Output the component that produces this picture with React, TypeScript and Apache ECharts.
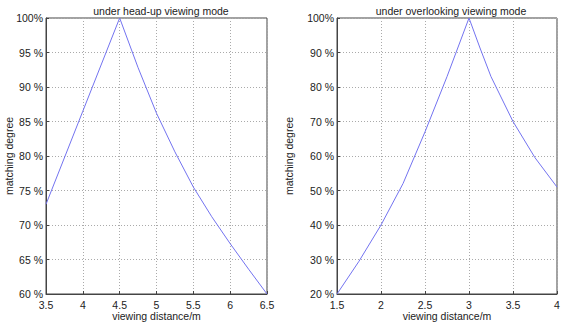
import React, { useEffect, useRef } from "react";
import * as echarts from "echarts";

const leftTitle = "under head-up viewing mode";
const rightTitle = "under overlooking viewing mode";
const xName = "viewing distance/m";
const yName = "matching degree";

const leftX = [3.5, 4.0, 4.5, 4.75, 5.0, 5.25, 5.5, 5.75, 6.0, 6.25, 6.5];
const leftY = [73, 86.5, 100, 92.8, 86.2, 80.6, 75.5, 71.2, 67.3, 63.6, 60];

const rightX = [1.5, 1.75, 2.0, 2.25, 2.5, 2.75, 3.0, 3.125, 3.25, 3.5, 3.75, 4.0];
const rightY = [20, 29.5, 40, 52, 67, 83, 100, 91.3, 83, 70, 59.5, 51];

const font = "'Liberation Sans', Arial, sans-serif";
const textColor = "#222";
const lineColor = "#7373f0";

function pairs(xs: number[], ys: number[]) {
  return xs.map((x, i) => [x, ys[i]]);
}

function yFmt(v: number) {
  return v === 100 ? "100%" : v + " %";
}

export default function App() {
  const ref = useRef<HTMLDivElement>(null);
  useEffect(() => {
    if (!ref.current) return;
    const chart = echarts.init(ref.current, null, { renderer: "svg" });
    const axisCommon = {
      axisLine: { show: true, lineStyle: { color: "#444", width: 1 } },
      axisTick: { show: true, inside: true, length: 3, lineStyle: { color: "#444" } },
      splitLine: { show: true, lineStyle: { color: "#aaa", type: [1, 2] as any, width: 1 } },
      axisLabel: { color: textColor, fontFamily: font, fontSize: 10.5, margin: 5 },
      nameTextStyle: { color: textColor, fontFamily: font, fontSize: 10.5 },
      nameMoveOverlap: false,
    };
    chart.setOption({
      animation: false,
      backgroundColor: "#fff",
      title: [
        { text: leftTitle, left: 156, top: 0, textAlign: "center", textStyle: { fontFamily: font, fontSize: 10.5, fontWeight: "normal", color: textColor } },
        { text: rightTitle, left: 446, top: 0, textAlign: "center", textStyle: { fontFamily: font, fontSize: 10.5, fontWeight: "normal", color: textColor } },
      ],
      grid: [
        { left: 46, top: 18, width: 221, height: 276, show: true, borderColor: "#444", borderWidth: 1, backgroundColor: "#fff", outerBoundsMode: "none", containLabel: false },
        { left: 337, top: 18, width: 220, height: 276, show: true, borderColor: "#444", borderWidth: 1, backgroundColor: "#fff", outerBoundsMode: "none", containLabel: false },
      ],
      xAxis: [
        { ...axisCommon, type: "value", gridIndex: 0, min: 3.5, max: 6.5, interval: 0.5, name: xName, nameLocation: "middle", nameGap: 16 },
        { ...axisCommon, type: "value", gridIndex: 1, min: 1.5, max: 4, interval: 0.5, name: xName, nameLocation: "middle", nameGap: 16 },
      ],
      yAxis: [
        { ...axisCommon, type: "value", gridIndex: 0, min: 60, max: 100, interval: 5, name: yName, nameLocation: "middle", nameGap: 32, axisLabel: { ...axisCommon.axisLabel, margin: 3, formatter: yFmt } },
        { ...axisCommon, type: "value", gridIndex: 1, min: 20, max: 100, interval: 10, name: yName, nameLocation: "middle", nameGap: 43, axisLabel: { ...axisCommon.axisLabel, margin: 3, formatter: yFmt } },
      ],
      series: [
        { type: "line", xAxisIndex: 0, yAxisIndex: 0, data: pairs(leftX, leftY), showSymbol: false, smooth: false, lineStyle: { color: lineColor, width: 1 } },
        { type: "line", xAxisIndex: 1, yAxisIndex: 1, data: pairs(rightX, rightY), showSymbol: false, smooth: false, lineStyle: { color: lineColor, width: 1 } },
      ],
    });
    return () => chart.dispose();
  }, []);
  return <div ref={ref} style={{ width: 561, height: 324, position: "absolute", left: 0, top: 0 }} />;
}
